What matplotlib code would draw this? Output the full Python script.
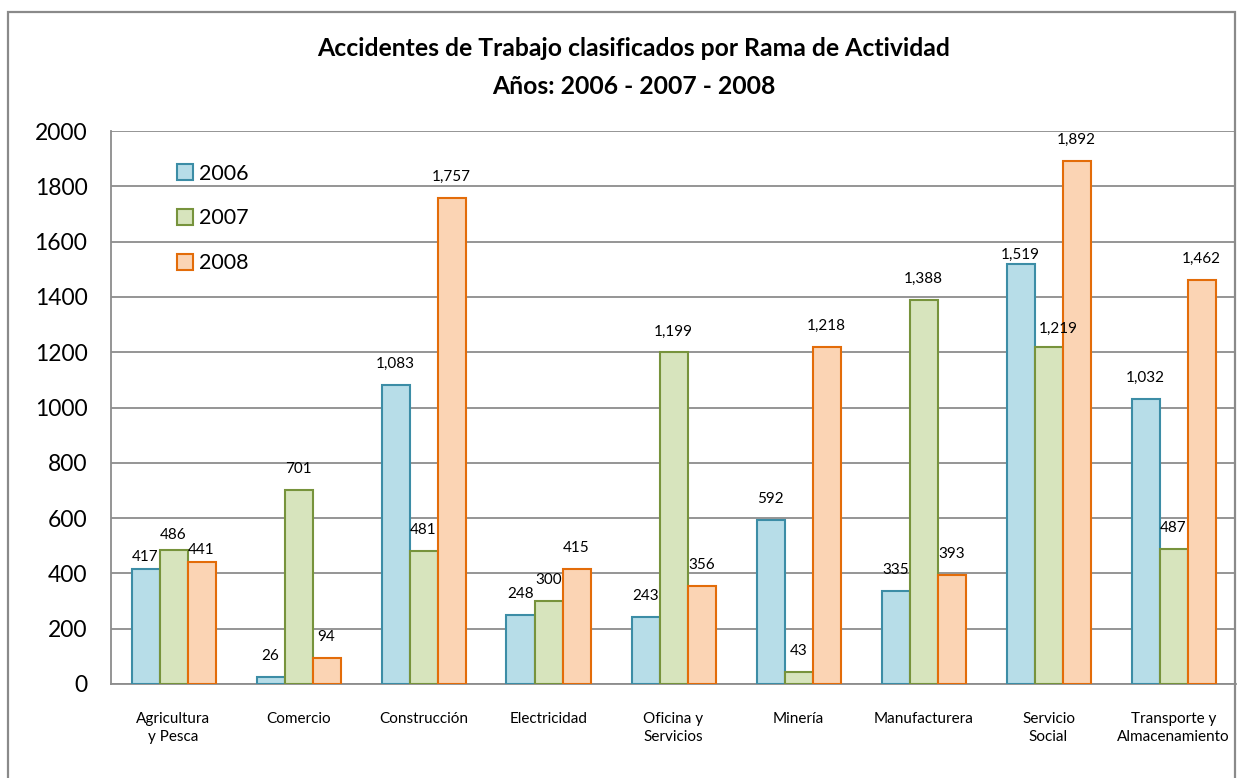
import matplotlib
matplotlib.use("Agg")
import matplotlib.pyplot as plt
from matplotlib.patches import Rectangle
import numpy as np

plt.rcParams['font.family'] = ['Lato', 'DejaVu Sans']

categories = ["Agricultura\ny Pesca", "Comercio", "Construcción", "Electricidad",
              "Oficina y\nServicios", "Minería", "Manufacturera", "Servicio\nSocial",
              "Transporte y\nAlmacenamiento"]
years = ["2006", "2007", "2008"]
v2006 = [417, 26, 1083, 248, 243, 592, 335, 1519, 1032]
v2007 = [486, 701, 481, 300, 1199, 43, 1388, 1219, 487]
v2008 = [441, 94, 1757, 415, 356, 1218, 393, 1892, 1462]
yticks = [0, 200, 400, 600, 800, 1000, 1200, 1400, 1600, 1800, 2000]

fills = ["#B7DDE8", "#D7E4BD", "#FBD4B4"]
edges = ["#3C8DA6", "#77933C", "#E36C09"]

# per-label nudges (pixels) where labels would collide
label_nudge = {(0, 0): (0, -9), (1, 0): (0, -6), (2, 0): (0, -9),
               (0, 7): (0, -12), (1, 7): (10, -3)}

W, H = 1237, 778
fig = plt.figure(figsize=(W / 100, H / 100), dpi=100)
fig.patch.set_facecolor("white")

# chart border
fig.add_artist(Rectangle((8 / W, -0.05), (1235 - 8) / W, 1.05 - 12 / H,
                         transform=fig.transFigure, fill=False,
                         edgecolor="#8A8A8A", lw=1.6))

ax = fig.add_axes([111 / W, 1 - 684 / H, (1236 - 111) / W, (684 - 131) / H])
x = np.arange(len(categories))
width = 0.224
series = [v2006, v2007, v2008]
for i, (vals, yr) in enumerate(zip(series, years)):
    pos = x + (i - 1) * width
    bars = ax.bar(pos, vals, width, color=fills[i], edgecolor=edges[i],
                  linewidth=1.5, label=yr, zorder=3)
    for j, (b, v) in enumerate(zip(bars, vals)):
        dx, dy = label_nudge.get((i, j), (0, 0))
        ax.annotate(f"{v:,}", (b.get_x() + b.get_width() / 2, v),
                    xytext=(dx, 21 + dy), textcoords="offset pixels",
                    ha="center", va="center", fontsize=11, color="black",
                    zorder=4)

ax.set_xlim(-0.5, len(categories) - 0.5)
ax.set_ylim(0, 2000)
ax.set_yticks(yticks)
ax.set_yticklabels([str(t) for t in yticks], fontsize=16.5)
ax.set_xticks(x)
ax.set_xticklabels(categories, fontsize=11, linespacing=1.4)
ax.tick_params(axis="y", length=0, pad=17)
ax.tick_params(axis="x", length=0, pad=20)
ax.grid(axis="y", color="#8C8C8C", lw=1.3, zorder=0)
for s in ["top", "right"]:
    ax.spines[s].set_visible(False)
for s in ["left", "bottom"]:
    ax.spines[s].set_color("#8C8C8C")
    ax.spines[s].set_linewidth(1.3)

leg = ax.legend(loc="upper left", bbox_to_anchor=(57 / 1125, 1 - 24 / 553),
                frameon=False, fontsize=15.5, handlelength=0.75,
                handleheight=0.75, handletextpad=0.3, labelspacing=1.15,
                borderaxespad=0)

fig.text(634 / W, 1 - 49 / H, "Accidentes de Trabajo clasificados por Rama de Actividad",
         ha="center", va="center", fontsize=17.8, fontweight="bold")
fig.text(634 / W, 1 - 86 / H, "Años: 2006 - 2007 - 2008",
         ha="center", va="center", fontsize=17.8, fontweight="bold")

fig.savefig("out.png", dpi=100)
